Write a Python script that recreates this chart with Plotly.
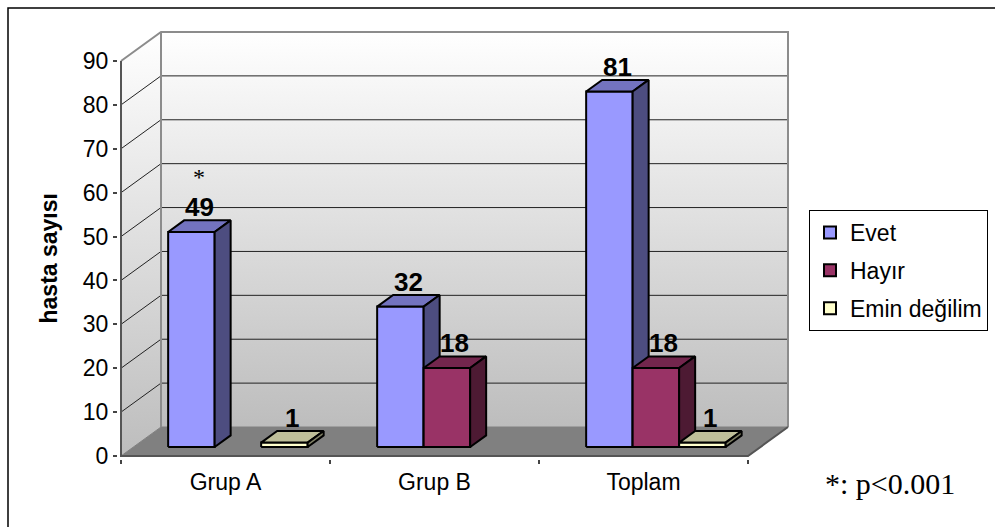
import plotly.graph_objects as go

# ---- data -------------------------------------------------------------
categories = ["Grup A", "Grup B", "Toplam"]
series_names = ["Evet", "Hayır", "Emin değilim"]
evet = [49, 32, 81]
hayir = [0, 18, 18]
emin = [1, 0, 1]
y_ticks = [0, 10, 20, 30, 40, 50, 60, 70, 80, 90]

series_values = [evet, hayir, emin]
front_colors = ["#9999FF", "#993366", "#FFFFCC"]
top_colors = ["#7373BF", "#73264D", "#BFBF99"]
side_colors = ["#4D4D80", "#4D1A33", "#808066"]

# ---- oblique 3-D projection helpers -----------------------------------
PX_U = 209.0            # pixels per category
PX_V = 395.0 / 90.0     # pixels per value unit
DU = 40.0 / PX_U        # full depth shift, x (category units)
DV = 29.0 / PX_V        # full depth shift, y (value units)
Z0, Z1 = 0.31, 0.71     # depth span of the columns
BAR_W = 0.2225          # column width in category units
GAP = (1 - 3 * BAR_W) / 2
VMAX = y_ticks[-1]
NCAT = len(categories)

# plot area in pixels
L, R, T, B = 118, 790, 30, 459
W, H = 995, 527
x_range = [(L - 121) / PX_U, (R - 121) / PX_U]
y_range = [(456 - B) / PX_V, (456 - T) / PX_V]

SANS = "Liberation Sans, Arial"
SERIF = "Liberation Serif, Times New Roman"


def px(xp):
    return (xp - L) / (R - L)


def py(yp):
    return (B - yp) / (B - T)


def proj(u, v, z):
    return u + z * DU, v + z * DV


def poly(pts, fill, line="black", width=2, gradient=None):
    xs = [p[0] for p in pts] + [pts[0][0]]
    ys = [p[1] for p in pts] + [pts[0][1]]
    kw = dict(x=xs, y=ys, mode="lines", fill="toself", showlegend=False,
              hoverinfo="skip", line=dict(color=line, width=width))
    if gradient is not None:
        kw["fillgradient"] = gradient
    else:
        kw["fillcolor"] = fill
    return go.Scatter(**kw)


fig = go.Figure()

wall_grad = dict(type="vertical", colorscale=[[0, "#BDBDBD"], [1, "#FFFFFF"]])

# side wall, back wall, floor
fig.add_trace(poly([(0, 0), (DU, DV), (DU, VMAX + DV), (0, VMAX)], None,
                   line="rgba(0,0,0,0)", width=0, gradient=wall_grad))
fig.add_trace(poly([(DU, DV), (NCAT + DU, DV), (NCAT + DU, VMAX + DV), (DU, VMAX + DV)],
                   None, line="rgba(0,0,0,0)", width=0, gradient=wall_grad))
fig.add_trace(poly([(0, 0), (NCAT, 0), (NCAT + DU, DV), (DU, DV)], "#808080",
                   line="#808080", width=1))

# gridlines across side and back walls
gx, gy = [], []
for v in y_ticks[1:-1]:
    gx += [0, DU, NCAT + DU, None]
    gy += [v, v + DV, v + DV, None]
fig.add_trace(go.Scatter(x=gx, y=gy, mode="lines", showlegend=False, hoverinfo="skip",
                         line=dict(color="#222222", width=1)))

# wall edges
fig.add_trace(go.Scatter(
    x=[0, DU, NCAT + DU, NCAT + DU, None, DU, DU],
    y=[VMAX, VMAX + DV, VMAX + DV, DV, None, DV, VMAX + DV],
    mode="lines", showlegend=False, hoverinfo="skip",
    line=dict(color="#8C8C8C", width=2)))

# front axis lines
fig.add_trace(go.Scatter(
    x=[0, 0, NCAT, NCAT + DU], y=[VMAX, 0, 0, DV],
    mode="lines", showlegend=False, hoverinfo="skip",
    line=dict(color="#555555", width=2)))

# columns, drawn left to right so each front face hides its neighbour's side
annotations = []
for ci in range(NCAT):
    for si, vals in enumerate(series_values):
        val = vals[ci]
        if not val:
            continue
        uL = ci + GAP + si * BAR_W
        uR = uL + BAR_W
        front = [proj(uL, 0, Z0), proj(uR, 0, Z0), proj(uR, val, Z0), proj(uL, val, Z0)]
        top = [proj(uL, val, Z0), proj(uR, val, Z0), proj(uR, val, Z1), proj(uL, val, Z1)]
        side = [proj(uR, 0, Z0), proj(uR, 0, Z1), proj(uR, val, Z1), proj(uR, val, Z0)]
        fig.add_trace(poly(front, front_colors[si]))
        fig.add_trace(poly(top, top_colors[si]))
        fig.add_trace(poly(side, side_colors[si]))
        lx, _ = proj((uL + uR) / 2, val, (Z0 + Z1) / 2)
        ly = val + Z1 * DV
        annotations.append(dict(
            x=lx, y=ly, xref="x", yref="y", text=str(val), showarrow=False,
            xanchor="center", yanchor="bottom", yshift=-4,
            font=dict(family=SANS, size=26, color="black", weight="bold")))
        if ci == 0 and si == 0:
            # significance marker above the Grup A "Evet" column
            annotations.append(dict(
                x=lx, y=ly, xref="x", yref="y", text="*", showarrow=False,
                xanchor="center", yanchor="bottom", yshift=28,
                font=dict(family=SERIF, size=24, color="black")))

# legend entries
for si, name in enumerate(series_names):
    fig.add_trace(go.Bar(x=[None], y=[None], name=name, legendgroup=name,
                         marker=dict(color=front_colors[si], line=dict(color="black", width=2))))

annotations.append(dict(
    x=px(48), y=VMAX / 2, xref="paper", yref="y", text="hasta sayısı", textangle=-90,
    xanchor="center", yanchor="middle", showarrow=False,
    font=dict(family=SANS, size=23, color="black", weight="bold")))
annotations.append(dict(
    x=px(890), y=py(483), xref="paper", yref="paper", text="*: p&lt;0.001", showarrow=False,
    xanchor="center", yanchor="middle",
    font=dict(family=SERIF, size=30, color="black")))

fig.update_layout(
    width=W, height=H,
    margin=dict(l=L, r=W - R, t=T, b=H - B, autoexpand=False),
    paper_bgcolor="white", plot_bgcolor="white",
    font=dict(family=SANS, color="black"),
    showlegend=True,
    legend=dict(x=px(809), y=py(210), xanchor="left", yanchor="top",
                bgcolor="white", bordercolor="black", borderwidth=1,
                font=dict(size=23), tracegroupgap=5, traceorder="grouped"),
    annotations=annotations,
    shapes=[dict(type="rect", xref="paper", yref="paper",
                 x0=px(8), x1=px(1010), y0=py(545), y1=py(8),
                 line=dict(color="black", width=1.5), fillcolor="rgba(0,0,0,0)", layer="above")],
    xaxis=dict(range=x_range, showgrid=False, zeroline=False, showline=False,
               tickmode="array", tickvals=[i + 0.5 for i in range(NCAT)], ticktext=categories,
               ticks="", ticklabelstandoff=7, tickfont=dict(size=23),
               minor=dict(tickmode="array", tickvals=list(range(NCAT + 1)), ticks="outside",
                          ticklen=4, tickwidth=1.5, tickcolor="#444444"),
               fixedrange=True),
    yaxis=dict(range=y_range, showgrid=False, zeroline=False, showline=False,
               tickmode="array", tickvals=y_ticks, ticks="outside", ticklen=4,
               tickwidth=1.5, tickcolor="#444444", tickfont=dict(size=23),
               fixedrange=True),
    bargap=0,
)

fig.write_html("out.html")
